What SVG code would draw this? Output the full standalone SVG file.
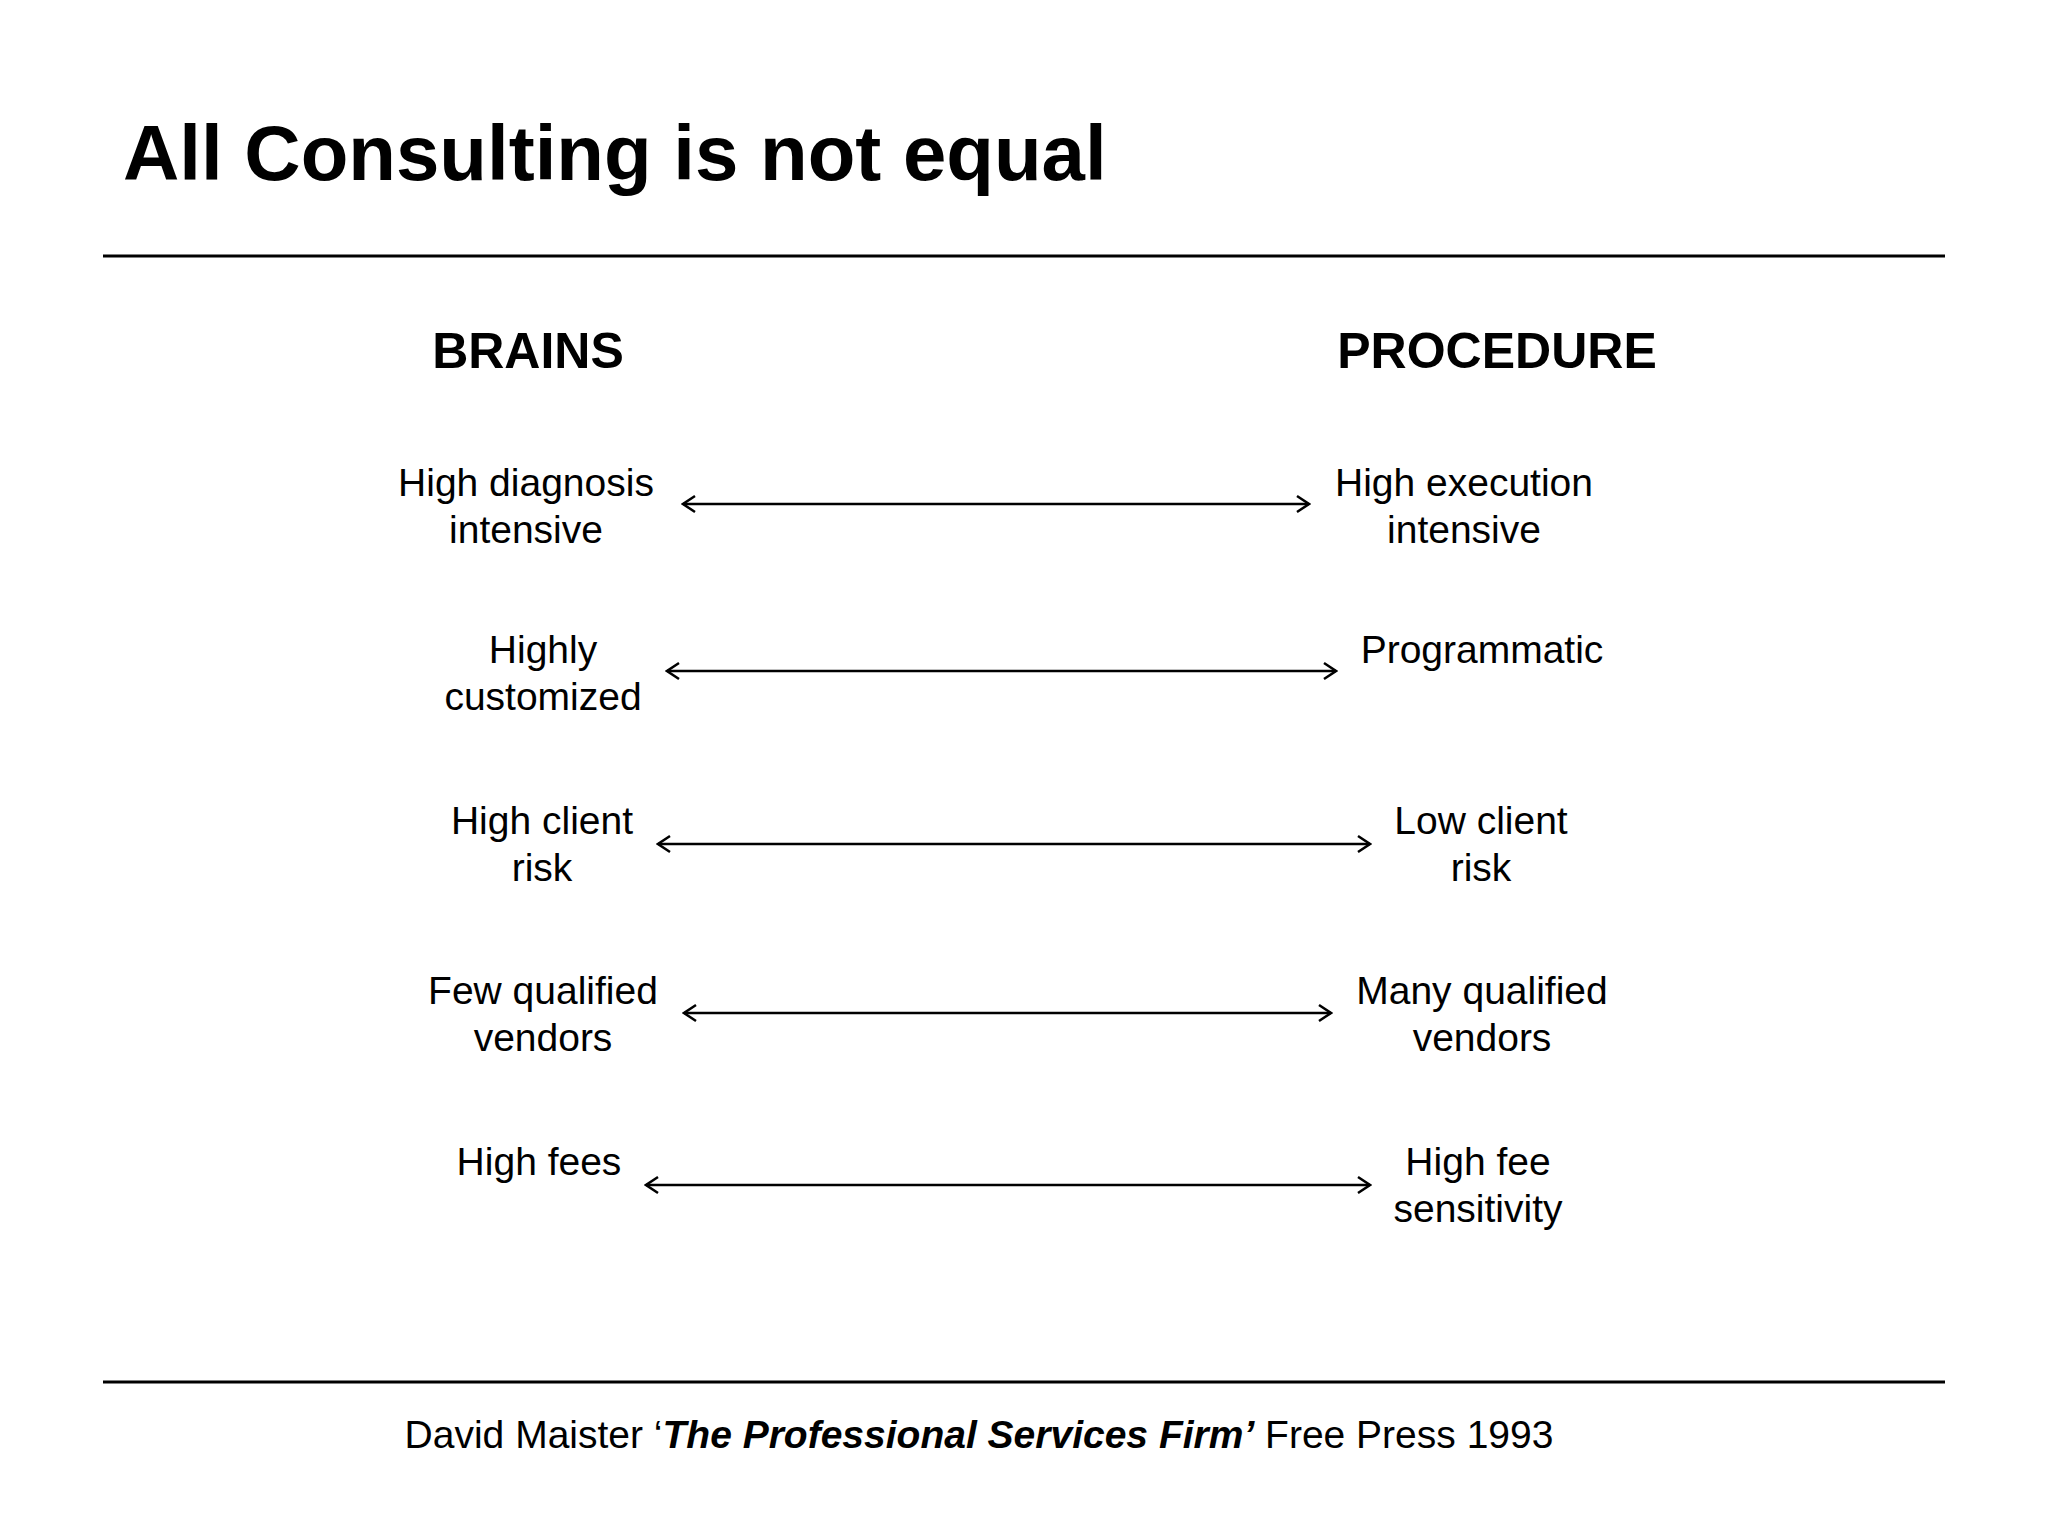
<svg xmlns="http://www.w3.org/2000/svg" width="2048" height="1536" viewBox="0 0 2048 1536">
<style>
text{font-family:"Liberation Sans",Arial,sans-serif;fill:#000}
.t{font-size:39px;text-anchor:middle}
.h{font-size:50px;font-weight:bold;text-anchor:middle}
.a{stroke:#000;stroke-width:2.5;fill:none;marker-start:url(#m);marker-end:url(#m)}
</style>
<defs>
<marker id="m" viewBox="0 0 20 20" refX="18" refY="10" markerWidth="20" markerHeight="20" markerUnits="userSpaceOnUse" orient="auto-start-reverse">
<path d="M6,2 L18,10 L6,18" fill="none" stroke="#000" stroke-width="2.5"/>
</marker>
</defs>
<rect width="2048" height="1536" fill="#fff"/>
<text x="123" y="180" style="font-size:78px;font-weight:bold">All Consulting is not equal</text>
<line x1="103" y1="256" x2="1945" y2="256" stroke="#000" stroke-width="3"/>
<line x1="103" y1="1382" x2="1945" y2="1382" stroke="#000" stroke-width="3"/>
<text class="h" x="528" y="368">BRAINS</text>
<text class="h" x="1497" y="368">PROCEDURE</text>
<g id="r1"><text class="t" x="526" y="496">High diagnosis</text><text class="t" x="526" y="543">intensive</text>
<text class="t" x="1464" y="496">High execution</text><text class="t" x="1464" y="543">intensive</text></g>
<g id="r2"><text class="t" x="543" y="663">Highly</text><text class="t" x="543" y="710">customized</text>
<text class="t" x="1482" y="663">Programmatic</text></g>
<g id="r3"><text class="t" x="542" y="834">High client</text><text class="t" x="542" y="881">risk</text>
<text class="t" x="1481" y="834">Low client</text><text class="t" x="1481" y="881">risk</text></g>
<g id="r4"><text class="t" x="543" y="1004">Few qualified</text><text class="t" x="543" y="1051">vendors</text>
<text class="t" x="1482" y="1004">Many qualified</text><text class="t" x="1482" y="1051">vendors</text></g>
<g id="r5"><text class="t" x="539" y="1175">High fees</text>
<text class="t" x="1478" y="1175">High fee</text><text class="t" x="1478" y="1222">sensitivity</text></g>
<g id="connectors">
<line class="a" x1="683" y1="504" x2="1309" y2="504"/>
<line class="a" x1="667" y1="671" x2="1336" y2="671"/>
<line class="a" x1="658" y1="844" x2="1370" y2="844"/>
<line class="a" x1="684" y1="1013" x2="1331" y2="1013"/>
<line class="a" x1="646" y1="1185" x2="1370" y2="1185"/>
</g>
<text x="979" y="1448" style="font-size:39px;text-anchor:middle">David Maister ‘<tspan font-weight="bold" font-style="italic">The Professional Services Firm’</tspan> Free Press 1993</text>
</svg>
